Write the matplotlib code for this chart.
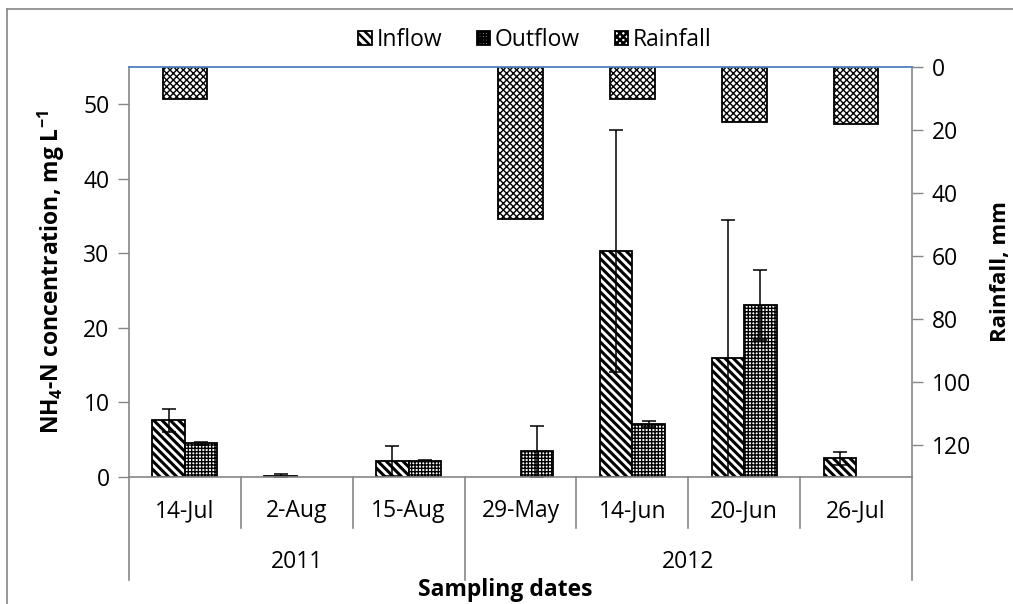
import matplotlib
matplotlib.use('Agg')
import matplotlib.pyplot as plt
import numpy as np
from matplotlib.lines import Line2D
import matplotlib.transforms as mtransforms

plt.rcParams['font.family'] = ['Open Sans', 'DejaVu Sans']
plt.rcParams['mathtext.fontset'] = 'custom'
plt.rcParams['mathtext.rm'] = 'Open Sans'
plt.rcParams['mathtext.bf'] = 'Open Sans:bold'
plt.rcParams['hatch.linewidth'] = 1.8

nan = float('nan')
dates = ['14-Jul', '2-Aug', '15-Aug', '29-May', '14-Jun', '20-Jun', '26-Jul']
years = ['2011', '2012']
year_counts = [3, 4]

inflow = [7.6, 0.2, 2.2, nan, 30.3, 15.9, 2.5]
inflow_err = [1.5, 0.2, 2.0, nan, 16.2, 18.6, 0.9]
outflow = [4.5, nan, 2.2, 3.45, 7.1, 23.1, nan]
outflow_err = [0.2, nan, 0.05, 3.4, 0.4, 4.7, nan]
rainfall = [10.0, nan, nan, 48.3, 10.3, 17.5, 18.2]

GRAY = '#868686'
FS = 16.5


def hatch_lw(bars, lw):
    for p in bars:
        if hasattr(p, 'set_hatch_linewidth'):
            p.set_hatch_linewidth(lw)


fig = plt.figure(figsize=(10.13, 6.04), dpi=100)
ax = fig.add_axes([129 / 1013, 1 - 477 / 604, (912 - 129) / 1013, (477 - 67) / 604])
x = np.arange(len(dates))
w = 0.29

ekw = dict(ecolor='black', elinewidth=1.1, capsize=5, capthick=1.1)
b1 = ax.bar(x - w / 2, inflow, w, yerr=inflow_err, facecolor='white',
            edgecolor='black', linewidth=1.3, hatch='\\\\\\\\', error_kw=ekw,
            label='Inflow')
hatch_lw(b1, 2.2)
b2 = ax.bar(x + w / 2, outflow, w, yerr=outflow_err, facecolor='white',
            edgecolor='black', linewidth=1.3, hatch='+++++', error_kw=ekw,
            label='Outflow')
hatch_lw(b2, 1.0)

ax.set_xlim(-0.5, len(dates) - 0.5)
ax.set_ylim(0, 55)
ax.set_yticks(range(0, 51, 10))
ax.tick_params(axis='y', direction='out', length=8, width=1, color=GRAY,
               labelsize=FS, pad=6)
ax.set_xticks([])
for s in ['left', 'bottom']:
    ax.spines[s].set_color(GRAY)
    ax.spines[s].set_linewidth(1.2)
ax.spines['right'].set_visible(False)
ax.spines['top'].set_visible(False)
ax.set_ylabel(r'NH$_\mathbf{4}$-N concentration, mg L$^\mathbf{-1}$',
              fontsize=FS, fontweight='bold')
ax.yaxis.set_label_coords(-0.079, 0.5)

ax2 = ax.twinx()
b3 = ax2.bar(x, rainfall, 0.4, facecolor='white', edgecolor='black',
             linewidth=1.3, hatch='xxxxx', label='Rainfall')
hatch_lw(b3, 1.0)
ax2.set_ylim(130, 0)
ax2.set_yticks(range(0, 121, 20))
ax2.tick_params(axis='y', direction='out', length=8, width=1, color=GRAY,
                labelsize=FS, pad=6)
ax2.spines['right'].set_color(GRAY)
ax2.spines['right'].set_linewidth(1.2)
ax2.spines['top'].set_color('#4F81BD')
ax2.spines['top'].set_linewidth(1.3)
ax2.spines['left'].set_visible(False)
ax2.spines['bottom'].set_visible(False)
ax2.set_ylabel('Rainfall, mm', fontsize=16, fontweight='bold')
ax2.yaxis.set_label_coords(1.100, 0.5)

# two-level category axis
trans = mtransforms.blended_transform_factory(ax.transData, ax.transAxes)
ah = 477 - 67
short_y = -(528 - 477) / ah
long_y = -(580 - 477) / ah
bounds = [-0.5]
for c in year_counts:
    bounds.append(bounds[-1] + c)
for i in range(len(dates) + 1):
    xb = i - 0.5
    y_end = long_y if xb in bounds else short_y
    ax.add_line(Line2D([xb, xb], [0, y_end], transform=trans, color=GRAY,
                       linewidth=1.2, clip_on=False))
for i, d in enumerate(dates):
    ax.text(i, -(511 - 477) / ah, d, transform=trans, ha='center', va='center',
            fontsize=FS)
for j, yr in enumerate(years):
    ax.text((bounds[j] + bounds[j + 1]) / 2, -(562 - 477) / ah, yr,
            transform=trans, ha='center', va='center', fontsize=FS)
fig.text(505 / 1013, 1 - 590 / 604, 'Sampling dates', ha='center', va='center',
         fontsize=FS, fontweight='bold')

h1, l1 = ax.get_legend_handles_labels()
h2, l2 = ax2.get_legend_handles_labels()
fig.legend(h1 + h2, l1 + l2, loc='center', bbox_to_anchor=(535 / 1013, 1 - 40 / 604),
           ncol=3, frameon=False, fontsize=FS, handlelength=0.6, handleheight=0.6,
           handletextpad=0.2, columnspacing=1.5)

# chart border
fig.add_artist(Line2D([7 / 1013, 7 / 1013], [0, 1 - 9 / 604], color=GRAY,
                      linewidth=1.2, transform=fig.transFigure))
fig.add_artist(Line2D([7 / 1013, 1], [1 - 9 / 604, 1 - 9 / 604], color=GRAY,
                      linewidth=1.2, transform=fig.transFigure))

fig.savefig('out.png', dpi=100)
